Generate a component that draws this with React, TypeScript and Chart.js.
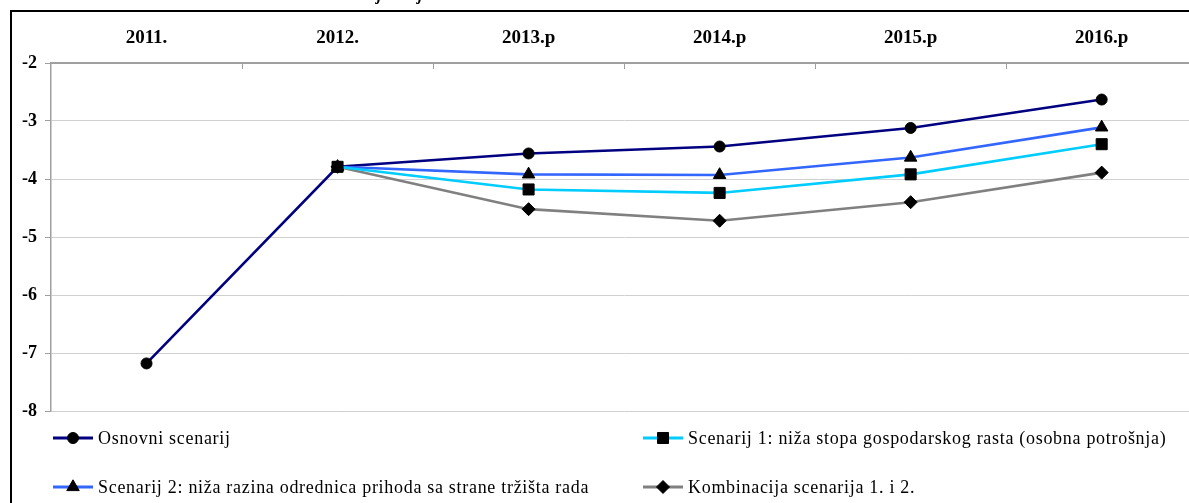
import React, { useEffect, useRef } from 'react';
import { Chart, registerables } from 'chart.js';

Chart.register(...registerables);

const categories = ['2011.', '2012.', '2013.p', '2014.p', '2015.p', '2016.p'];
const osnovni = [-7.18, -3.79, -3.56, -3.44, -3.12, -2.63];
const scenarij1 = [null, -3.79, -4.18, -4.24, -3.92, -3.4];
const scenarij2 = [null, -3.79, -3.92, -3.93, -3.63, -3.11];
const kombinacija = [null, -3.79, -4.52, -4.72, -4.4, -3.89];

const seriesNames = [
  'Osnovni scenarij',
  'Scenarij 1: niža stopa gospodarskog rasta (osobna potrošnja)',
  'Scenarij 2: niža razina odrednica prihoda sa strane tržišta rada',
  'Kombinacija scenarija 1. i 2.',
];
const seriesColors = ['#000080', '#00CCFF', '#3366FF', '#808080'];
const seriesPointStyles = ['circle', 'rect', 'triangle', 'rectRot'];
const seriesPointRadius = [5.5, 7.8, 7.2, 6.5];
const seriesOrder = [2, 0, 1, 3];

const yMin = -8;
const yMax = -2;

const FONT = '"Liberation Serif", "Times New Roman", serif';

function drawMarker(ctx: CanvasRenderingContext2D, style: string, x: number, y: number, r: number) {
  ctx.save();
  ctx.fillStyle = '#000';
  ctx.strokeStyle = '#000';
  ctx.lineWidth = 1;
  ctx.beginPath();
  if (style === 'circle') {
    ctx.arc(x, y, r, 0, Math.PI * 2);
  } else if (style === 'rect') {
    const s = r * Math.SQRT1_2;
    ctx.rect(x - s, y - s, 2 * s, 2 * s);
  } else if (style === 'triangle') {
    ctx.moveTo(x, y - r);
    ctx.lineTo(x + r * 0.866, y + r * 0.5);
    ctx.lineTo(x - r * 0.866, y + r * 0.5);
    ctx.closePath();
  } else {
    ctx.moveTo(x - r, y);
    ctx.lineTo(x, y - r);
    ctx.lineTo(x + r, y);
    ctx.lineTo(x, y + r);
    ctx.closePath();
  }
  ctx.fill();
  ctx.stroke();
  ctx.restore();
}

export default function App() {
  const ref = useRef<HTMLCanvasElement>(null);

  useEffect(() => {
    const canvas = ref.current;
    if (!canvas) return;

    const decor = {
      id: 'decor',
      beforeDraw(chart: any) {
        const ctx = chart.ctx as CanvasRenderingContext2D;
        ctx.save();
        ctx.fillStyle = '#fff';
        ctx.fillRect(0, 0, chart.width, chart.height);
        ctx.restore();
      },
      afterDraw(chart: any) {
        const ctx = chart.ctx as CanvasRenderingContext2D;
        const area = chart.chartArea;
        const xs = chart.scales.x;
        ctx.save();
        // outer frame
        ctx.strokeStyle = '#000';
        ctx.lineWidth = 2;
        ctx.strokeRect(11, 11, 1400, 1000);
        // cut-off title glyphs above frame
        ctx.fillStyle = '#000';
        ctx.font = 'italic bold 16px ' + FONT;
        ctx.textBaseline = 'alphabetic';
        ctx.fillText('j', 377, -0.5);
        ctx.fillText('j', 418, -0.5);
        // inner category tick marks
        ctx.strokeStyle = '#a0a0a0';
        ctx.lineWidth = 1;
        for (let i = 1; i < categories.length; i++) {
          const px = Math.round((xs.getPixelForTick(i - 1) + xs.getPixelForTick(i)) / 2) + 0.5;
          ctx.beginPath();
          ctx.moveTo(px, area.top);
          ctx.lineTo(px, area.top + 6);
          ctx.stroke();
        }
        // legend
        const colX = [area.left + 2, area.left + 592];
        const rowY = [area.bottom + 27, area.bottom + 76];
        ctx.font = '18px ' + FONT;
        (ctx as any).letterSpacing = '0.7px';
        ctx.textBaseline = 'middle';
        ctx.textAlign = 'left';
        seriesNames.forEach((name, i) => {
          const x0 = colX[i % 2];
          const y0 = rowY[Math.floor(i / 2)];
          ctx.strokeStyle = seriesColors[i];
          ctx.lineWidth = 3;
          ctx.beginPath();
          ctx.moveTo(x0, y0);
          ctx.lineTo(x0 + 40, y0);
          ctx.stroke();
          drawMarker(ctx, seriesPointStyles[i], x0 + 20, y0, seriesPointRadius[i]);
          ctx.fillStyle = '#000';
          ctx.fillText(name, x0 + 45, y0 + 1);
        });
        (ctx as any).letterSpacing = '0px';
        ctx.restore();
      },
    };

    const seriesData = [osnovni, scenarij1, scenarij2, kombinacija];

    const chart = new Chart(canvas, {
      type: 'line',
      data: {
        labels: categories,
        datasets: seriesData.map((d, i) => ({
          label: seriesNames[i],
          data: d,
          borderColor: seriesColors[i],
          backgroundColor: '#000',
          borderWidth: 2.6,
          pointStyle: seriesPointStyles[i] as any,
          pointRadius: seriesPointRadius[i],
          pointBackgroundColor: '#000',
          pointBorderColor: '#000',
          pointBorderWidth: 1,
          tension: 0,
          spanGaps: false,
          order: seriesOrder[i],
        })),
      },
      options: {
        animation: false,
        responsive: false,
        devicePixelRatio: 1,
        layout: { padding: { left: 0, top: 0, right: 3, bottom: 92 } },
        plugins: {
          legend: { display: false },
          tooltip: { enabled: false },
          title: { display: false },
        },
        scales: {
          x: {
            type: 'category',
            position: 'top',
            offset: true,
            grid: { display: true, drawOnChartArea: false, drawTicks: false },
            border: { display: true, color: '#a0a0a0', width: 2 },
            ticks: {
              color: '#000',
              font: { family: FONT, size: 19, weight: 'bold' },
              padding: 14,
              maxRotation: 0,
              autoSkip: false,
            },
            afterFit: (scale: any) => {
              scale.height = 63;
            },
          },
          y: {
            min: yMin,
            max: yMax,
            grid: { color: '#d0d0d0', lineWidth: 1, tickLength: 6, tickColor: '#a0a0a0' },
            border: { display: true, color: '#a0a0a0', width: 1.5 },
            ticks: {
              stepSize: 1,
              color: '#000',
              font: { family: FONT, size: 18, weight: 'bold' },
              padding: 8,
            },
            afterFit: (scale: any) => {
              scale.width = 51;
            },
          },
        },
      },
      plugins: [decor],
    });

    return () => chart.destroy();
  }, []);

  return (
    <div
      style={{
        position: 'fixed',
        left: 0,
        top: 0,
        width: 1189,
        height: 503,
        overflow: 'hidden',
        background: '#fff',
      }}
    >
      <canvas ref={ref} width={1206} height={503} style={{ display: 'block', width: 1206, height: 503 }} />
    </div>
  );
}
